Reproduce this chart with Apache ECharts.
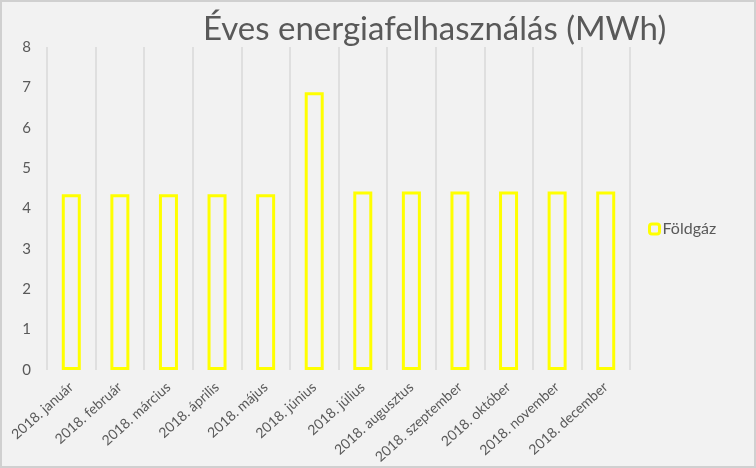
<!DOCTYPE html>
<html><head><meta charset="utf-8">
<script src="https://cdn.jsdelivr.net/npm/echarts@6/dist/echarts.min.js"></script>
<style>
html,body{margin:0;padding:0;background:#fff;}
#c{width:756px;height:468px;box-sizing:border-box;border:2px solid #d0d0d0;background:#f2f2f2;}
</style></head>
<body><div id="c"></div>
<script>
const categories = ['2018. január','2018. február','2018. március','2018. április','2018. május','2018. június','2018. július','2018. augusztus','2018. szeptember','2018. október','2018. november','2018. december'];
const foldgaz = [4.35,4.35,4.35,4.35,4.35,6.88,4.42,4.42,4.42,4.42,4.42,4.42];
const yTicks = [0,1,2,3,4,5,6,7,8];
const FONT = 'Lato';
const chart = echarts.init(document.getElementById('c'));
chart.setOption({
  backgroundColor: '#f2f2f2',
  animation: false,
  title: {
    text: 'Éves energiafelhasználás (MWh)',
    left: 196, top: 6,
    textStyle: {fontFamily: FONT, fontSize: 33, fontWeight: 'normal', color: '#595959'}
  },
  legend: {
    data: ['Földgáz'],
    orient: 'vertical',
    left: 641, top: 214,
    itemWidth: 10, itemHeight: 10, itemGap: 4,
    textStyle: {fontFamily: FONT, fontSize: 16, color: '#595959', padding: [0,0,0,-2]},
    itemStyle: {color: '#f2f2f2', borderColor: '#ffff00', borderWidth: 3}
  },
  grid: {left: 45, right: 124, top: 45, bottom: 96, containLabel: false, outerBoundsMode: 'none'},
  xAxis: {
    type: 'category',
    data: categories,
    boundaryGap: true,
    axisLine: {show: false},
    axisTick: {show: false},
    splitLine: {show: true, lineStyle: {color: '#d9d9d9', width: 1.5}},
    axisLabel: {rotate: 42, interval: 0, margin: 15, fontFamily: FONT, fontSize: 14, color: '#595959'}
  },
  yAxis: {
    type: 'value',
    min: yTicks[0], max: yTicks[yTicks.length-1], interval: 1,
    axisLine: {show: false},
    axisTick: {show: false},
    splitLine: {show: false},
    axisLabel: {margin: 16, fontFamily: FONT, fontSize: 15, color: '#595959'}
  },
  series: [{
    name: 'Földgáz',
    type: 'bar',
    data: foldgaz,
    barWidth: 19,
    itemStyle: {color: '#f2f2f2', borderColor: '#ffff00', borderWidth: 3}
  }]
});
</script></body></html>
